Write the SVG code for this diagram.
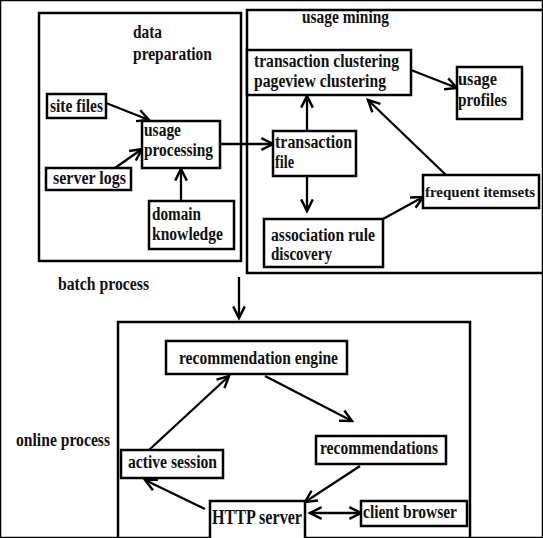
<svg xmlns="http://www.w3.org/2000/svg" width="543" height="538" viewBox="0 0 543 538">
<style>
rect{fill:#fff;stroke:#000;stroke-width:2.5}
rect.c{fill:none}
text{font-family:"Liberation Serif","Times New Roman",serif;font-weight:bold;font-size:18px;fill:#111}
#connectors line{stroke:#000;stroke-width:2.3;fill:none;marker-end:url(#ah)}
</style>
<defs>
<marker id="ah" markerUnits="userSpaceOnUse" markerWidth="18" markerHeight="18" viewBox="-3 -3 17 17" refX="11" refY="5.5" orient="auto-start-reverse">
<path d="M0,0 L11,5.5 L0,11" fill="none" stroke="#000" stroke-width="2.3"/>
</marker>
</defs>
<rect width="543" height="538" fill="#fff" stroke="none"/>
<g id="data-preparation"><rect class="c" x="39" y="13" width="202" height="248"/>
<text x="133" y="38" textLength="29" lengthAdjust="spacingAndGlyphs">data</text>
<text x="133" y="60" textLength="79" lengthAdjust="spacingAndGlyphs">preparation</text></g>
<g id="usage-mining"><rect class="c" x="247" y="10" width="300" height="263"/>
<text x="302" y="23" textLength="87" lengthAdjust="spacingAndGlyphs">usage mining</text></g>
<g id="online-process"><rect class="c" x="118" y="322" width="352" height="220"/>
<text x="16" y="446" textLength="94" lengthAdjust="spacingAndGlyphs">online process</text></g>
<g id="batch-process"><text x="58" y="290" textLength="91" lengthAdjust="spacingAndGlyphs">batch process</text></g>
<g id="connectors">
<line x1="106" y1="103" x2="149" y2="120"/>
<line x1="115" y1="168" x2="142" y2="149"/>
<line x1="181" y1="201" x2="181" y2="169"/>
<line x1="220" y1="144" x2="273" y2="144"/>
<line x1="307" y1="131" x2="307" y2="96"/>
<line x1="307" y1="176" x2="307" y2="211"/>
<line x1="411" y1="70" x2="457" y2="88"/>
<line x1="383" y1="219" x2="423" y2="197"/>
<line x1="446" y1="175" x2="368" y2="100"/>
<line x1="239" y1="277" x2="239" y2="318"/>
<line x1="149" y1="450" x2="229" y2="376"/>
<line x1="265" y1="376" x2="352" y2="421"/>
<line x1="360" y1="466" x2="305" y2="502"/>
<line x1="205" y1="509" x2="145" y2="480"/>
<line x1="310" y1="513" x2="361" y2="513" style="marker-start:url(#ah)"/>
</g>
<g id="site-files"><rect x="47" y="94" width="59" height="24"/>
<text x="50" y="112" textLength="53" lengthAdjust="spacingAndGlyphs">site files</text></g>
<g id="usage-processing"><rect x="142" y="121" width="78" height="47"/>
<text x="144" y="136" textLength="37" lengthAdjust="spacingAndGlyphs">usage</text>
<text x="144" y="156" textLength="69" lengthAdjust="spacingAndGlyphs">processing</text></g>
<g id="server-logs"><rect x="46" y="168" width="85" height="22"/>
<text x="53" y="184" textLength="73" lengthAdjust="spacingAndGlyphs">server logs</text></g>
<g id="domain-knowledge"><rect x="149" y="201" width="85" height="48"/>
<text x="152" y="220" textLength="49" lengthAdjust="spacingAndGlyphs">domain</text>
<text x="152" y="240" textLength="71" lengthAdjust="spacingAndGlyphs">knowledge</text></g>
<g id="transaction-clustering"><rect x="247" y="50" width="164" height="45"/>
<text x="254" y="67" textLength="145" lengthAdjust="spacingAndGlyphs">transaction clustering</text>
<text x="254" y="87" textLength="132" lengthAdjust="spacingAndGlyphs">pageview clustering</text></g>
<g id="usage-profiles"><rect x="457" y="67" width="65" height="52"/>
<text x="458" y="85" textLength="39" lengthAdjust="spacingAndGlyphs">usage</text>
<text x="458" y="106" textLength="49" lengthAdjust="spacingAndGlyphs">profiles</text></g>
<g id="transaction-file"><rect x="273" y="131" width="83" height="45"/>
<text x="275" y="148" textLength="77" lengthAdjust="spacingAndGlyphs">transaction</text>
<text x="275" y="168" textLength="19" lengthAdjust="spacingAndGlyphs">file</text></g>
<g id="association-rule-discovery"><rect x="264" y="219" width="119" height="48"/>
<text x="271" y="241" textLength="104" lengthAdjust="spacingAndGlyphs">association rule</text>
<text x="271" y="260" textLength="61" lengthAdjust="spacingAndGlyphs">discovery</text></g>
<g id="frequent-itemsets"><rect x="423" y="175" width="116" height="33"/>
<text x="425" y="197" textLength="110" lengthAdjust="spacingAndGlyphs" style="font-size:15px">frequent itemsets</text></g>
<g id="recommendation-engine"><rect x="166" y="341" width="181" height="33"/>
<text x="179" y="364" textLength="159" lengthAdjust="spacingAndGlyphs">recommendation engine</text></g>
<g id="recommendations"><rect x="316" y="436" width="130" height="28"/>
<text x="320" y="454" textLength="118" lengthAdjust="spacingAndGlyphs">recommendations</text></g>
<g id="active-session"><rect x="121" y="450" width="102" height="28"/>
<text x="128" y="468" textLength="89" lengthAdjust="spacingAndGlyphs">active session</text></g>
<g id="http-server"><rect x="210" y="501" width="95" height="40"/>
<text x="212" y="524" textLength="90" lengthAdjust="spacingAndGlyphs" style="font-size:20px">HTTP server</text></g>
<g id="client-browser"><rect x="361" y="501" width="106" height="25"/>
<text x="363" y="518" textLength="94" lengthAdjust="spacingAndGlyphs">client browser</text></g>
</svg>
